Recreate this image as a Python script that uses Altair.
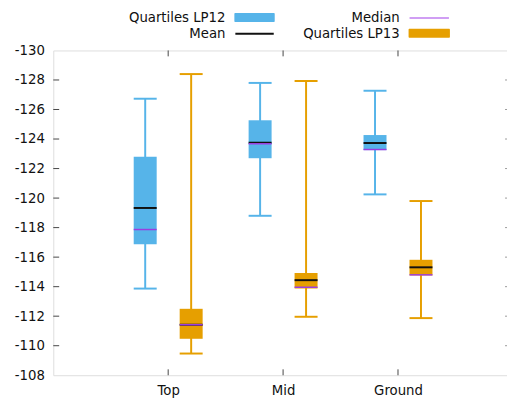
import altair as alt
import pandas as pd

categories = ["Top", "Mid", "Ground"]
series = ["LP12", "LP13"]

# values per category (Top, Mid, Ground)
lp12_whisker_low = [-113.87, -118.8, -120.25]
lp12_box_low = [-116.87, -122.7, -123.25]
lp12_median = [-117.87, -123.68, -123.29]
lp12_mean = [-119.33, -123.75, -123.73]
lp12_box_high = [-122.8, -125.27, -124.27]
lp12_whisker_high = [-126.73, -127.8, -127.27]

lp13_whisker_low = [-109.47, -111.96, -111.87]
lp13_box_low = [-110.47, -113.87, -114.76]
lp13_median = [-111.42, -113.96, -114.8]
lp13_mean = [-111.42, -114.44, -115.31]
lp13_box_high = [-112.5, -114.93, -115.82]
lp13_whisker_high = [-128.4, -127.93, -119.8]

y_ticks = [-130, -128, -126, -124, -122, -120, -118, -116, -114, -112, -110, -108]

colors = {"LP12": "#56b4e9", "LP13": "#e69f00"}
offsets = {"LP12": -0.2, "LP13": 0.2}
half = 0.1

rows = []
for s, vals in [("LP12", (lp12_whisker_low, lp12_box_low, lp12_median, lp12_mean, lp12_box_high, lp12_whisker_high)),
                ("LP13", (lp13_whisker_low, lp13_box_low, lp13_median, lp13_mean, lp13_box_high, lp13_whisker_high))]:
    for i, c in enumerate(categories):
        x = i + 1 + offsets[s]
        rows.append(dict(cat=c, series=s, x=x, xl=x - half, xr=x + half,
                         wlo=vals[0][i], blo=vals[1][i], med=vals[2][i],
                         mean=vals[3][i], bhi=vals[4][i], whi=vals[5][i]))
df = pd.DataFrame(rows)

W = 461
H = 330
XMAX = 4 * W / 467.0
FS = 13.5
FONT = "DejaVu Sans"
TXT = "#111"

xs = alt.Scale(domain=[0, XMAX], nice=False, zero=False)
ys = alt.Scale(domain=[-130, -108], reverse=True, nice=False, zero=False)
col = alt.Color("series:N", scale=alt.Scale(domain=series, range=[colors[s] for s in series]), legend=None)

xaxis = alt.Axis(values=[1, 2, 3], labelExpr="['','Top','Mid','Ground','',''][datum.value]",
                 ticks=False, tickSize=0, labelPadding=9, domain=False, grid=False,
                 labelOverlap=False, labelFontSize=FS, labelFont=FONT, labelColor=TXT, title=None)
yaxis = alt.Axis(values=y_ticks, labelExpr="'' + datum.value", ticks=False, tickSize=0,
                 labelPadding=9, domain=False, grid=False, labelOverlap=False,
                 labelFontSize=FS, labelFont=FONT, labelColor=TXT, title=None)


def X(f):
    return alt.X(f, scale=xs, axis=xaxis)


def Y(f):
    return alt.Y(f, scale=ys, axis=yaxis)


base = alt.Chart(df)

whisk = base.mark_rule(strokeWidth=2).encode(x=X("x:Q"), y=Y("wlo:Q"), y2="whi:Q", color=col)
cap_lo = base.mark_rule(strokeWidth=2).encode(x=X("xl:Q"), x2="xr:Q", y=Y("wlo:Q"), color=col)
cap_hi = base.mark_rule(strokeWidth=2).encode(x=X("xl:Q"), x2="xr:Q", y=Y("whi:Q"), color=col)
box = base.mark_rect(opacity=1).encode(x=X("xl:Q"), x2="xr:Q", y=Y("bhi:Q"), y2="blo:Q", color=col)
mean = base.mark_rule(strokeWidth=2, color="#111").encode(x=X("xl:Q"), x2="xr:Q", y=Y("mean:Q"))
med = base.mark_rule(strokeWidth=1.5, color="#9a3ee0").encode(x=X("xl:Q"), x2="xr:Q", y=Y("med:Q"))

# inward ticks
yt = pd.DataFrame({"v": y_ticks[1:-1]})
ytick_l = alt.Chart(yt).mark_rule(color="#444", strokeWidth=1).encode(
    y=Y("v:Q"), x=alt.value(0), x2=alt.value(6))
ytick_r = alt.Chart(yt).mark_rule(color="#999", strokeWidth=1).encode(
    y=Y("v:Q"), x=alt.value(W - 2), x2=alt.value(W))
xt = pd.DataFrame({"v": [1, 2, 3]})
xtick_b = alt.Chart(xt).mark_rule(color="#444", strokeWidth=1).encode(
    x=X("v:Q"), y=alt.value(H), y2=alt.value(H - 6))
xtick_t = alt.Chart(xt).mark_rule(color="#444", strokeWidth=1).encode(
    x=X("v:Q"), y=alt.value(0), y2=alt.value(6))

# legend (gnuplot-style key above the plot)
leg_labels = ["Quartiles LP12", "Mean", "Median", "Quartiles LP13"]
leg_df = pd.DataFrame({"label": leg_labels,
                       "tx": [175, 175, 352, 352],
                       "ty": [-33, -17, -33, -17]})
leg_text = alt.Chart(leg_df).mark_text(align="right", baseline="middle", fontSize=13.5, font=FONT,
                                       color=TXT).encode(
    x=alt.X("tx:Q", scale=None), y=alt.Y("ty:Q", scale=None), text="label:N")
one = pd.DataFrame({"k": [0]})
sw12 = alt.Chart(one).mark_rect(color=colors["LP12"], cornerRadius=1).encode(
    x=alt.value(184), x2=alt.value(225), y=alt.value(-38), y2=alt.value(-29))
sw13 = alt.Chart(one).mark_rect(color=colors["LP13"], cornerRadius=1).encode(
    x=alt.value(361), x2=alt.value(403), y=alt.value(-22), y2=alt.value(-13))
lmean = alt.Chart(one).mark_rule(color="#111", strokeWidth=2).encode(
    x=alt.value(185), x2=alt.value(224), y=alt.value(-17))
lmed = alt.Chart(one).mark_rule(color="#c07ef0", strokeWidth=1.5).encode(
    x=alt.value(362), x2=alt.value(402), y=alt.value(-33))

chart = alt.layer(whisk, cap_lo, cap_hi, box, mean, med, ytick_l, ytick_r, xtick_b, xtick_t,
                  leg_text, sw12, sw13, lmean, lmed).properties(
    width=W, height=H,
    padding={"left": 46, "top": 40, "right": 0, "bottom": 20},
    autosize=alt.AutoSizeParams(type="none"),
).configure_view(stroke="#777", strokeWidth=1).configure(background="white")

chart.save("out.html", embed_options={"renderer": "svg", "actions": False})
